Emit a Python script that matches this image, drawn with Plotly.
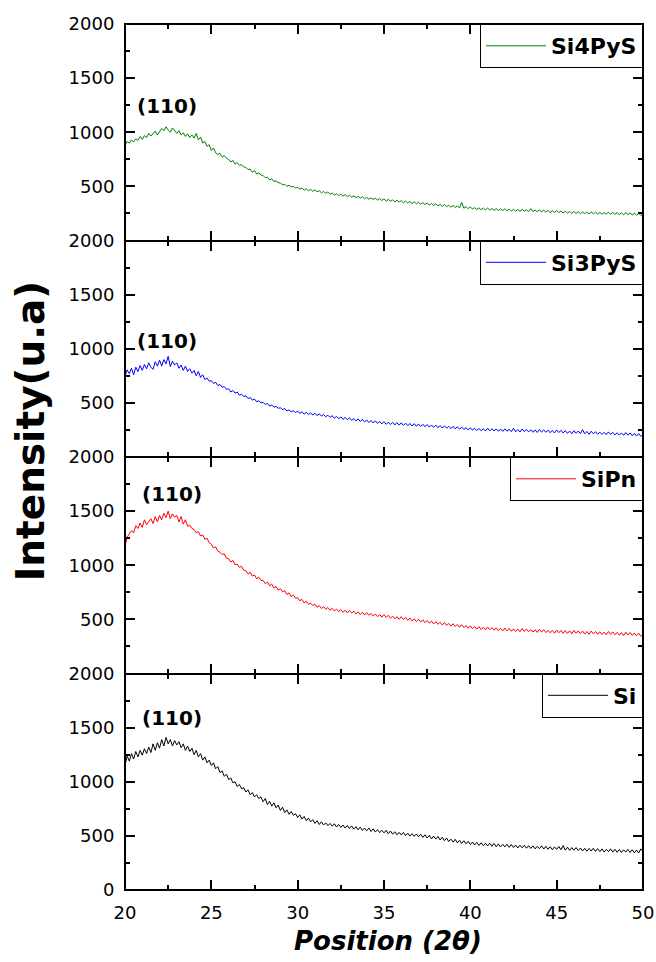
import plotly.graph_objects as go
from plotly.subplots import make_subplots

# 2-theta scan grid (0.125 deg steps)
two_theta = [round(20 + 0.125 * i, 3) for i in range(241)]

si4pys = [880, 915, 900, 930, 910, 940, 925, 960,
          935, 970, 950, 990, 965, 985, 1010, 975,
          1000, 1035, 1015, 1050, 1020, 1000, 1040, 1010,
          990, 1015, 975, 995, 960, 985, 950, 975,
          945, 990, 930, 955, 900, 915, 870, 885,
          830, 855, 810, 795, 805, 770, 785, 760,
          750, 725, 740, 705, 720, 695, 700, 680,
          675, 655, 660, 630, 645, 615, 625, 605,
          600, 580, 585, 560, 570, 545, 550, 535,
          530, 515, 520, 500, 510, 495, 500, 485,
          490, 475, 485, 465, 478, 460, 472, 455,
          468, 450, 460, 442, 452, 436, 448, 428,
          438, 420, 432, 415, 428, 410, 424, 406,
          418, 400, 412, 396, 408, 392, 404, 386,
          398, 382, 394, 378, 392, 372, 388, 370,
          384, 365, 380, 362, 376, 356, 372, 354,
          368, 350, 364, 346, 362, 340, 358, 338,
          354, 336, 350, 332, 346, 326, 342, 324,
          340, 320, 334, 316, 332, 312, 326, 308,
          324, 305, 320, 300, 352, 298, 314, 294,
          310, 290, 304, 287, 302, 284, 300, 282,
          300, 282, 296, 278, 294, 276, 292, 276,
          294, 275, 290, 272, 288, 271, 286, 270,
          288, 270, 284, 268, 294, 266, 282, 264,
          284, 264, 280, 262, 278, 258, 274, 260,
          276, 258, 272, 254, 270, 252, 268, 250,
          268, 250, 266, 246, 264, 248, 262, 244,
          266, 246, 262, 244, 260, 242, 258, 244,
          262, 242, 260, 240, 258, 238, 256, 236,
          260, 238, 254, 236, 252, 234, 250, 232,
          244]

si3pys = [750, 805, 770, 820, 760, 830, 790, 845,
          800, 855, 815, 870, 830, 810, 880, 840,
          895, 840, 900, 860, 930, 835, 885, 850,
          870, 820, 850, 800, 840, 790, 815, 775,
          800, 750, 790, 735, 760, 715, 730, 700,
          705, 680, 690, 660, 670, 645, 650, 625,
          630, 600, 615, 590, 600, 570, 580, 560,
          565, 540, 550, 525, 535, 510, 520, 500,
          505, 485, 495, 470, 480, 460, 468, 450,
          455, 438, 448, 425, 435, 418, 428, 412,
          424, 402, 418, 396, 414, 392, 408, 388,
          404, 382, 398, 378, 392, 372, 386, 366,
          382, 358, 376, 354, 370, 348, 366, 344,
          362, 338, 356, 334, 352, 328, 348, 324,
          342, 318, 338, 314, 334, 310, 330, 306,
          326, 302, 322, 300, 320, 296, 318, 294,
          316, 292, 312, 290, 310, 286, 308, 284,
          306, 282, 302, 280, 300, 276, 296, 274,
          294, 270, 290, 268, 288, 266, 284, 262,
          284, 260, 280, 256, 276, 254, 272, 250,
          270, 248, 266, 244, 264, 242, 262, 240,
          266, 242, 262, 240, 260, 238, 258, 236,
          260, 238, 256, 234, 266, 232, 254, 230,
          258, 234, 254, 232, 252, 228, 250, 226,
          254, 230, 250, 228, 248, 224, 246, 222,
          250, 226, 246, 222, 244, 218, 240, 216,
          244, 220, 240, 216, 252, 214, 236, 210,
          238, 214, 234, 210, 230, 208, 228, 206,
          232, 208, 228, 204, 224, 202, 222, 200,
          226, 202, 222, 196, 218, 194, 216, 192,
          206]

sipn = [1170, 1260, 1290, 1320, 1300, 1365, 1340, 1390,
        1350, 1420, 1375, 1400, 1430, 1385, 1450, 1400,
        1460, 1420, 1480, 1440, 1500, 1430, 1475, 1445,
        1460, 1400, 1450, 1380, 1420, 1360, 1370, 1340,
        1330, 1300, 1310, 1270, 1280, 1240, 1250, 1210,
        1195, 1160, 1170, 1130, 1120, 1100, 1105, 1065,
        1060, 1030, 1045, 1005, 1010, 980, 990, 955,
        950, 920, 935, 900, 910, 875, 890, 860,
        860, 830, 845, 810, 825, 790, 805, 770,
        785, 755, 765, 730, 745, 710, 725, 695,
        700, 672, 685, 652, 668, 640, 650, 628,
        640, 612, 628, 600, 618, 592, 610, 585,
        602, 578, 595, 572, 590, 565, 585, 560,
        582, 558, 575, 550, 570, 545, 565, 540,
        562, 538, 555, 530, 550, 525, 545, 520,
        545, 518, 538, 510, 530, 505, 525, 500,
        525, 498, 518, 492, 512, 485, 505, 480,
        502, 476, 496, 470, 490, 465, 484, 458,
        480, 454, 474, 448, 470, 444, 462, 438,
        460, 434, 454, 428, 450, 424, 444, 418,
        440, 414, 434, 410, 432, 406, 428, 404,
        430, 404, 424, 400, 422, 396, 418, 394,
        420, 394, 416, 390, 412, 388, 410, 386,
        415, 388, 410, 386, 406, 382, 404, 380,
        408, 382, 404, 378, 400, 376, 398, 372,
        402, 376, 398, 372, 396, 370, 394, 368,
        398, 372, 394, 368, 392, 364, 388, 362,
        392, 366, 388, 362, 386, 360, 382, 358,
        388, 362, 384, 358, 380, 354, 378, 350,
        382, 356, 378, 352, 374, 348, 372, 344,
        358]

si = [1150, 1240, 1190, 1260, 1210, 1280, 1230, 1290,
      1245, 1305, 1260, 1320, 1270, 1350, 1290, 1360,
      1310, 1390, 1330, 1410, 1350, 1390, 1330, 1380,
      1340, 1370, 1315, 1350, 1290, 1330, 1280, 1310,
      1250, 1290, 1230, 1260, 1200, 1230, 1175, 1200,
      1150, 1175, 1120, 1140, 1085, 1100, 1050, 1070,
      1020, 1035, 990, 1000, 955, 975, 935, 945,
      905, 925, 880, 900, 860, 880, 845, 860,
      815, 845, 790, 820, 775, 805, 760, 785,
      735, 765, 715, 740, 700, 725, 690, 705,
      670, 695, 655, 680, 640, 665, 630, 650,
      615, 640, 605, 630, 600, 620, 595, 615,
      590, 612, 582, 605, 578, 600, 572, 595,
      568, 592, 562, 585, 556, 580, 550, 572,
      548, 572, 540, 565, 535, 558, 530, 552,
      528, 552, 520, 545, 515, 538, 510, 532,
      508, 532, 502, 525, 498, 520, 495, 518,
      492, 515, 486, 510, 480, 505, 472, 498,
      470, 495, 462, 488, 455, 480, 448, 470,
      442, 468, 436, 460, 430, 455, 426, 450,
      420, 444, 416, 440, 412, 436, 410, 432,
      408, 432, 404, 430, 400, 426, 398, 422,
      398, 422, 394, 420, 392, 416, 388, 414,
      390, 414, 386, 410, 384, 408, 380, 404,
      382, 408, 378, 404, 376, 400, 372, 398,
      376, 402, 372, 410, 368, 396, 366, 392,
      368, 392, 364, 388, 360, 386, 358, 384,
      360, 386, 356, 382, 354, 380, 350, 376,
      354, 380, 350, 376, 348, 374, 346, 372,
      350, 376, 346, 372, 344, 370, 342, 380,
      352]

series_names = ["Si4PyS", "Si3PyS", "SiPn", "Si"]
series_values = [si4pys, si3pys, sipn, si]
series_colors = ["#008000", "#0000FF", "#FF0000", "#000000"]
peak_label = "(110)"
peak_pos = [(22.45, 1240), (22.45, 1070), (22.7, 1655), (22.7, 1590)]

FONT = "DejaVu Sans"

fig = make_subplots(rows=4, cols=1, shared_xaxes=True, vertical_spacing=0)

legend_ids = ["legend", "legend2", "legend3", "legend4"]
for i, (name, vals, col) in enumerate(zip(series_names, series_values, series_colors)):
    fig.add_trace(go.Scatter(x=two_theta, y=vals, mode="lines", name=name,
                             line=dict(color=col, width=1),
                             legend=legend_ids[i]), row=i + 1, col=1)
    fig.add_annotation(x=peak_pos[i][0], y=peak_pos[i][1], text=peak_label,
                       showarrow=False, xanchor="center", yanchor="middle",
                       font=dict(family=FONT, size=20, color="black", weight="bold"),
                       row=i + 1, col=1)

axis_common = dict(showline=True, linecolor="black", linewidth=1, mirror="allticks",
                   ticks="inside", ticklen=10, tickwidth=1.5, tickcolor="black",
                   showgrid=False, zeroline=False, automargin=False,
                   ticklabelstandoff=6,
                   tickfont=dict(family=FONT, size=18, color="black"))

for r in range(1, 5):
    fig.update_xaxes(range=[20, 50], tickvals=[20, 25, 30, 35, 40, 45, 50],
                     minor=dict(ticks="inside", ticklen=5, tickwidth=1.5, tickcolor="black",
                                dtick=2.5, tick0=20),
                     showticklabels=(r == 4), row=r, col=1, **axis_common)
    yt = [0, 500, 1000, 1500, 2000] if r == 4 else [500, 1000, 1500, 2000]
    fig.update_yaxes(range=[0, 2000], tickvals=yt,
                     minor=dict(ticks="inside", ticklen=5, tickwidth=1.5, tickcolor="black",
                                dtick=250, tick0=0),
                     row=r, col=1, **axis_common)

# thicker outer frame
fig.add_shape(type="rect", xref="paper", yref="paper", x0=0, x1=1, y0=0, y1=1,
              line=dict(color="black", width=2), layer="above")

legend_tops = [1.0, 0.75, 0.5, 0.25]
layout_legends = {}
for i, lid in enumerate(legend_ids):
    layout_legends[lid] = dict(x=1, xanchor="right", y=legend_tops[i], yanchor="top",
                               bordercolor="black", borderwidth=1, bgcolor="white",
                               font=dict(family=FONT, size=22, color="black", weight="bold"),
                               itemwidth=60, tracegroupgap=0)
fig.update_layout(**layout_legends)

fig.add_annotation(xref="paper", yref="paper", x=-0.183, y=0.53, text="Intensity(u.a)",
                   textangle=-90, showarrow=False, xanchor="center", yanchor="middle",
                   font=dict(family=FONT, size=39, color="black", weight="bold"))
fig.add_annotation(xref="paper", yref="paper", x=0.508, y=-0.059,
                   text="<i>Position (2θ)</i>", showarrow=False,
                   xanchor="center", yanchor="middle",
                   font=dict(family=FONT, size=26, color="black", weight="bold"))

fig.update_layout(width=656, height=962, margin=dict(l=125, r=13, t=24, b=72),
                  paper_bgcolor="white", plot_bgcolor="white", showlegend=True)

fig.write_html("out.html")
